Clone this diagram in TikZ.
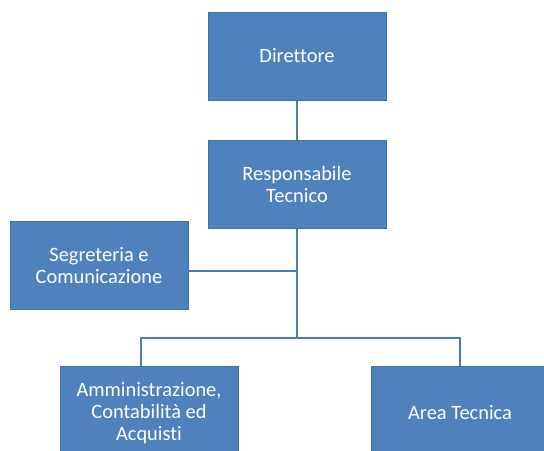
\documentclass[tikz,border=0pt]{standalone}
\usepackage{fontspec}
\setmainfont[Ligatures=NoCommon]{Carlito}
\definecolor{boxblue}{HTML}{4F81BD}
\definecolor{boxedge}{HTML}{41719C}
\definecolor{linkblue}{HTML}{4A7EBB}

\begin{document}
\begin{tikzpicture}[x=0.5pt,y=-0.5pt,
    orgbox/.style={draw=boxedge,fill=boxblue,line width=0.5pt,text=white,align=center,
        minimum width=89pt,minimum height=44pt,inner sep=2pt,
        font=\fontsize{10.2}{11}\selectfont},
    orglink/.style={draw=linkblue,line width=0.8pt}]
            \useasboundingbox (0,0) rectangle (544,450);
            \node[orgbox] (dir) at (297,56){Direttore};
            \node[orgbox] (resp) at (297,184.5){Responsabile\\Tecnico};
            \node[orgbox] (segr) at (99,265.5){Segreteria e\\Comunicazione};
            % bottom row runs off the lower edge
            \node[orgbox,minimum height=47pt] (amm) at (149,413){Amministrazione,\\Contabilità ed\\Acquisti};
            \node[orgbox,minimum height=47pt] (area) at (460,413){Area Tecnica};
            \coordinate (segjoin) at (297,271);
            \coordinate (bus) at (297,338);
            \draw[orglink] (dir) -- (resp);
            \draw[orglink] (resp.south) -- (bus);
            \draw[orglink] (segjoin) -- (segjoin -| segr.east);
            \draw[orglink] ([xshift=-4pt]amm.north) |- (bus) -| (area.north);
        \end{tikzpicture}
\end{document}
